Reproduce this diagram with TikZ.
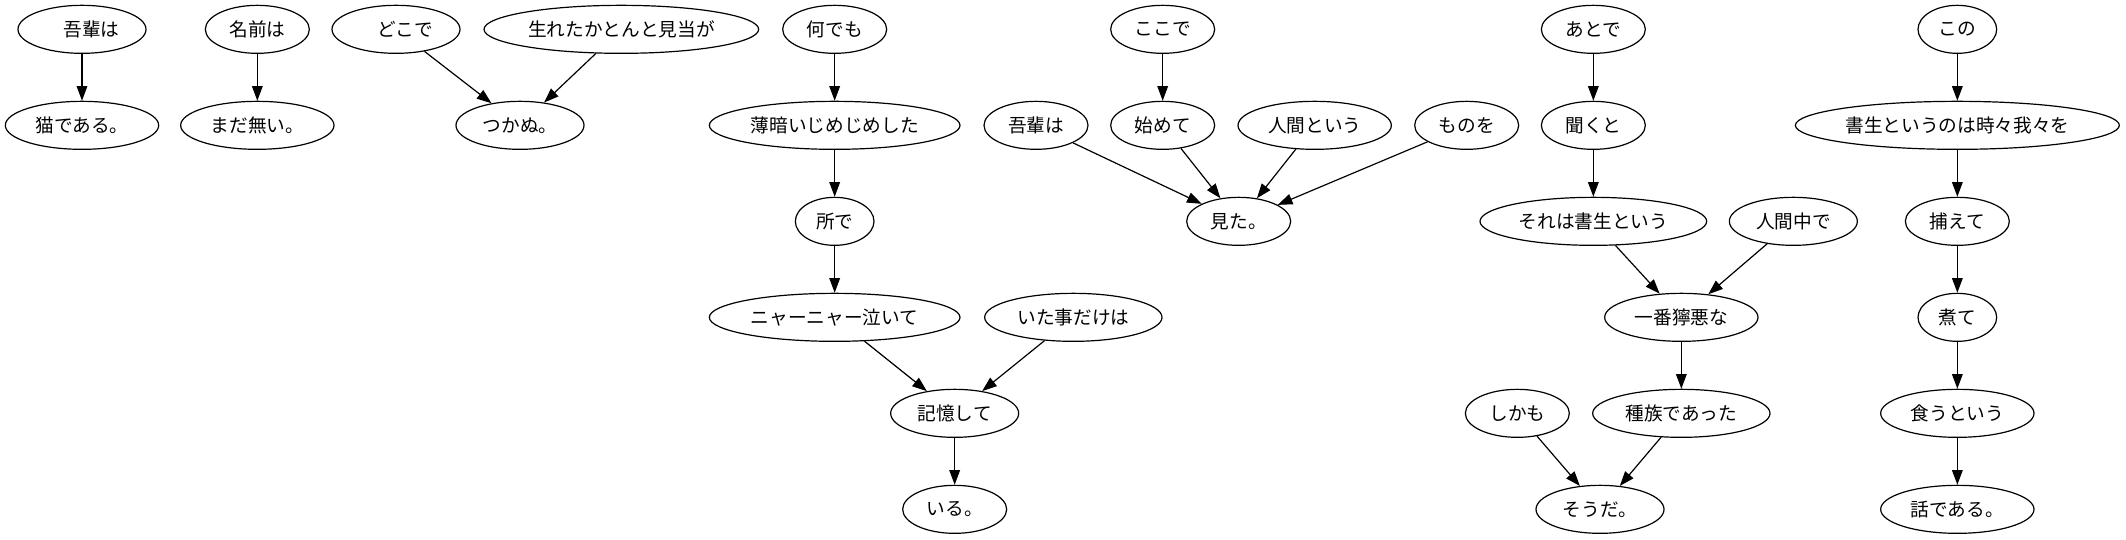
\documentclass[tikz,border=0pt]{standalone}
\usepackage{fontspec}
\newfontfamily\jpfont{Noto Sans CJK JP}
\usetikzlibrary{shapes.geometric,arrows.meta}
\tikzset{
  nd/.style={ellipse,draw,line width=0.9pt,inner sep=0pt,minimum height=36pt,
    font=\jpfont\fontsize{14pt}{17pt}\selectfont},
  nw/.style={minimum width=#1},
  edge/.style={line width=0.9pt,-{Triangle[length=11pt,width=8pt]}}
}
\begin{document}
\begin{tikzpicture}[x=1pt,y=-1pt]
\useasboundingbox (0,0) rectangle (1594.5,404.25);
% column 1
\node[nd,nw=96pt] (a1) at (61.5,22) {　吾輩は};
\node[nd,nw=115pt] (a2) at (61.5,94) {猫である。};
% column 2
\node[nd,nw=78pt] (b1) at (193,22) {名前は};
\node[nd,nw=115pt] (b2) at (193,94) {まだ無い。};
% column 3
\node[nd,nw=96pt] (c1) at (297,22) {　どこで};
\node[nd,nw=206pt] (c2) at (466,22) {生れたかとんと見当が};
\node[nd,nw=96pt] (c3) at (390,94) {つかぬ。};
% column 4
\node[nd,nw=78pt] (d1) at (626,22) {何でも};
\node[nd,nw=188pt] (d2) at (626,94) {薄暗いじめじめした};
\node[nd,nw=59pt] (d3) at (626,166) {所で};
\node[nd,nw=188pt] (d4) at (626,238) {ニャーニャー泣いて};
\node[nd,nw=133pt] (d5) at (805,238) {いた事だけは};
\node[nd,nw=96pt] (d6) at (716,310) {記憶して};
\node[nd,nw=78pt] (d7) at (716,382) {いる。};
% column 5
\node[nd,nw=78pt] (e1) at (872,22) {ここで};
\node[nd,nw=78pt] (e2) at (777,94) {吾輩は};
\node[nd,nw=78pt] (e3) at (872,94) {始めて};
\node[nd,nw=115pt] (e4) at (986,94) {人間という};
\node[nd,nw=78pt] (e5) at (1100,94) {ものを};
\node[nd,nw=78pt] (e6) at (929,166) {見た。};
% column 6
\node[nd,nw=78pt] (f1) at (1195,22) {あとで};
\node[nd,nw=78pt] (f2) at (1195,94) {聞くと};
\node[nd,nw=170pt] (f3) at (1195,166) {それは書生という};
\node[nd,nw=96pt] (f4) at (1345,166) {人間中で};
\node[nd,nw=115pt] (f5) at (1261,238) {一番獰悪な};
\node[nd,nw=78pt] (f6) at (1138,310) {しかも};
\node[nd,nw=133pt] (f7) at (1261,310) {種族であった};
\node[nd,nw=96pt] (f8) at (1200,382) {そうだ。};
% column 7
\node[nd,nw=59pt] (g1) at (1468,22) {この};
\node[nd,nw=243pt] (g2) at (1468,94) {書生というのは時々我々を};
\node[nd,nw=78pt] (g3) at (1468,166) {捕えて};
\node[nd,nw=59pt] (g4) at (1468,238) {煮て};
\node[nd,nw=115pt] (g5) at (1468,310) {食うという};
\node[nd,nw=115pt] (g6) at (1468,382) {話である。};
% edges
\draw[edge] (a1) -- (a2);
\draw[edge] (b1) -- (b2);
\draw[edge] (c1) -- (c3);
\draw[edge] (c2) -- (c3);
\draw[edge] (d1) -- (d2);
\draw[edge] (d2) -- (d3);
\draw[edge] (d3) -- (d4);
\draw[edge] (d4) -- (d6);
\draw[edge] (d5) -- (d6);
\draw[edge] (d6) -- (d7);
\draw[edge] (e1) -- (e3);
\draw[edge] (e2) -- (e6);
\draw[edge] (e3) -- (e6);
\draw[edge] (e4) -- (e6);
\draw[edge] (e5) -- (e6);
\draw[edge] (f1) -- (f2);
\draw[edge] (f2) -- (f3);
\draw[edge] (f3) -- (f5);
\draw[edge] (f4) -- (f5);
\draw[edge] (f5) -- (f7);
\draw[edge] (f6) -- (f8);
\draw[edge] (f7) -- (f8);
\draw[edge] (g1) -- (g2);
\draw[edge] (g2) -- (g3);
\draw[edge] (g3) -- (g4);
\draw[edge] (g4) -- (g5);
\draw[edge] (g5) -- (g6);
\end{tikzpicture}
\end{document}
